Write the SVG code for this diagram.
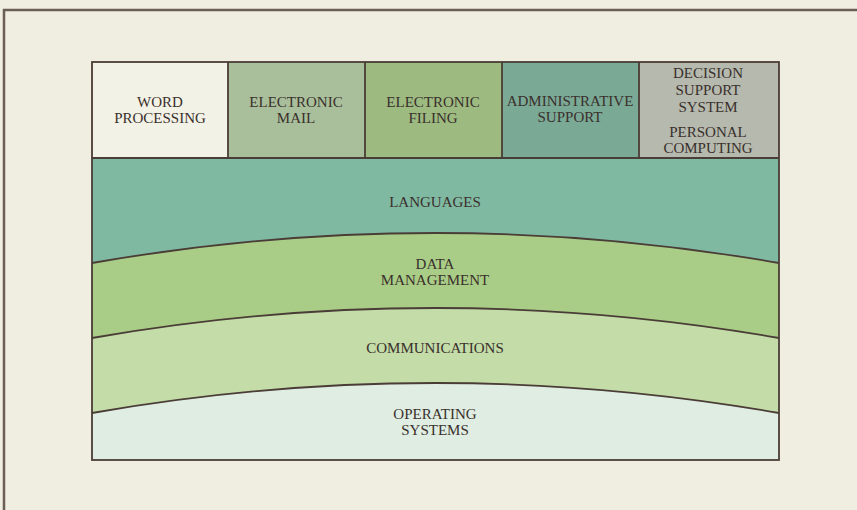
<svg xmlns="http://www.w3.org/2000/svg" width="857" height="510" viewBox="0 0 857 510">
<style>
.t{font-family:"Liberation Serif","DejaVu Serif",serif;font-size:15px;fill:#3a302c;text-anchor:middle}
.b{stroke:#4a3c36;stroke-width:1.8;fill:none}
</style>
<rect x="0" y="0" width="857" height="510" fill="#efeee1"/>
<path d="M4,510 V10 H857" fill="none" stroke="#6b5e55" stroke-width="2.5"/>
<g id="operating-systems">
<path d="M92,413 Q435,353 779,413 V460 H92 Z" fill="#dfede2"/>
<text class="t" x="435" y="419">OPERATING</text>
<text class="t" x="435" y="435">SYSTEMS</text>
</g>
<g id="communications">
<path d="M92,338 Q435,278 779,338 V413 Q435,353 92,413 Z" fill="#c3dca8"/>
<text class="t" x="435" y="353">COMMUNICATIONS</text>
</g>
<g id="data-management">
<path d="M92,263 Q435,203 779,263 V338 Q435,278 92,338 Z" fill="#a9cd86"/>
<text class="t" x="435" y="269">DATA</text>
<text class="t" x="435" y="285">MANAGEMENT</text>
</g>
<g id="languages">
<path d="M92,158 H779 V263 Q435,203 92,263 Z" fill="#80b9a2"/>
<text class="t" x="435" y="207">LANGUAGES</text>
</g>
<g id="word-processing">
<rect x="92" y="62" width="136" height="96" fill="#f3f2e6"/>
<text class="t" x="160" y="107">WORD</text>
<text class="t" x="160" y="123">PROCESSING</text>
</g>
<g id="electronic-mail">
<rect x="228" y="62" width="137" height="96" fill="#a9bf9b"/>
<text class="t" x="296" y="107">ELECTRONIC</text>
<text class="t" x="296" y="123">MAIL</text>
</g>
<g id="electronic-filing">
<rect x="365" y="62" width="137" height="96" fill="#9dba81"/>
<text class="t" x="433" y="107">ELECTRONIC</text>
<text class="t" x="433" y="123">FILING</text>
</g>
<g id="administrative-support">
<rect x="502" y="62" width="137" height="96" fill="#7aa996"/>
<text class="t" x="570" y="106">ADMINISTRATIVE</text>
<text class="t" x="570" y="122">SUPPORT</text>
</g>
<g id="decision-support">
<rect x="639" y="62" width="140" height="96" fill="#b5b9ae"/>
<text class="t" x="708" y="78">DECISION</text>
<text class="t" x="708" y="95">SUPPORT</text>
<text class="t" x="708" y="112">SYSTEM</text>
<text class="t" x="708" y="137">PERSONAL</text>
<text class="t" x="708" y="153">COMPUTING</text>
</g>
<g id="connectors" class="b">
<rect x="92" y="62" width="687" height="398"/>
<path d="M92,158 H779 M228,62 V158 M365,62 V158 M502,62 V158 M639,62 V158"/>
<path d="M92,263 Q435,203 779,263 M92,338 Q435,278 779,338 M92,413 Q435,353 779,413"/>
</g>
</svg>
